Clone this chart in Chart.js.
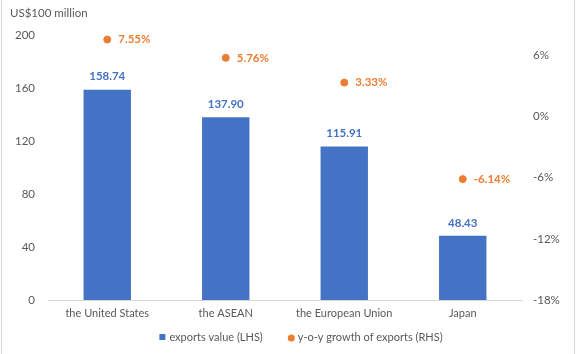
<!DOCTYPE html>
<html>
<head>
<meta charset="utf-8">
<script src="https://cdn.jsdelivr.net/npm/chart.js@4/dist/chart.umd.min.js"></script>
<style>
  html, body { margin: 0; padding: 0; background: #fff; }
  #wrap { width: 576px; height: 354px; position: relative; }
</style>
</head>
<body>
<div id="wrap"><canvas id="exportsChart"></canvas></div>
<script>
// exports by destination: value (LHS) and y-o-y growth (RHS)
const categories = ['the United States', 'the ASEAN', 'the European Union', 'Japan'];
const exportValues = [158.74, 137.90, 115.91, 48.43];
const growthRates = [7.55, 5.76, 3.33, -6.14];
const leftTicks = [0, 40, 80, 120, 160, 200];
const rightTicks = [-18, -12, -6, 0, 6];
const seriesNames = ['exports value (LHS)', 'y-o-y growth of exports (RHS)'];

const textGrey = '#595959';
const blue = '#4472C4';
const orange = '#ED7D31';
const fontFamily = 'Lato, "Open Sans", sans-serif';
const fontSize = 11.5;
const smallSize = 11;

// value labels, unit caption, legend and side frame lines
const labelPlugin = {
    id: 'labels',
    afterDatasetsDraw(chart) {
        const ctx = chart.ctx;
        ctx.save();
        ctx.font = 'bold ' + fontSize + 'px ' + fontFamily;
        ctx.textBaseline = 'middle';

        chart.getDatasetMeta(1).data.forEach((bar, i) => {
            ctx.fillStyle = blue;
            ctx.textAlign = 'center';
            ctx.fillText(exportValues[i].toFixed(2), bar.x, bar.y - 13);
        });

        chart.getDatasetMeta(0).data.forEach((pt, i) => {
            ctx.fillStyle = orange;
            ctx.textAlign = 'left';
            ctx.fillText(growthRates[i].toFixed(2) + '%', pt.x + 11, pt.y);
        });

        ctx.font = fontSize + 'px ' + fontFamily;
        ctx.fillStyle = textGrey;
        ctx.textAlign = 'left';
        ctx.fillText('US$100 million', 10, 13);

        // legend: blue square, orange dot
        ctx.font = smallSize + 'px ' + fontFamily;
        const w1 = ctx.measureText(seriesNames[0]).width;
        const w2 = ctx.measureText(seriesNames[1]).width;
        const total = 6 + 4 + w1 + 25 + 7 + 3 + w2;
        let x = 301 - total / 2;
        const y = 337;
        ctx.fillStyle = blue;
        ctx.fillRect(x, y - 3, 6, 6);
        x += 10;
        ctx.fillStyle = textGrey;
        ctx.fillText(seriesNames[0], x, y);
        x += w1 + 25;
        ctx.fillStyle = orange;
        ctx.beginPath();
        ctx.arc(x + 3.5, y + 1, 3.5, 0, Math.PI * 2);
        ctx.fill();
        x += 10;
        ctx.fillStyle = textGrey;
        ctx.fillText(seriesNames[1], x, y);

        ctx.strokeStyle = '#d9d9d9';
        ctx.lineWidth = 1;
        ctx.beginPath();
        ctx.moveTo(1.5, 0);
        ctx.lineTo(1.5, chart.height);
        ctx.moveTo(574.5, 0);
        ctx.lineTo(574.5, chart.height);
        ctx.stroke();
        ctx.restore();
    }
};

new Chart(document.getElementById('exportsChart'), {
    type: 'bar',
    data: {
        labels: categories,
        datasets: [{
            type: 'line',
            label: seriesNames[1],
            data: growthRates,
            yAxisID: 'y1',
            showLine: false,
            pointRadius: 3.5,
            pointHoverRadius: 3.5,
            pointBackgroundColor: orange,
            pointBorderColor: orange,
            order: 0
        }, {
            label: seriesNames[0],
            data: exportValues,
            yAxisID: 'y',
            backgroundColor: blue,
            borderWidth: 0,
            categoryPercentage: 1,
            barPercentage: 0.4,
            order: 1
        }]
    },
    options: {
        responsive: true,
        maintainAspectRatio: false,
        animation: false,
        layout: { padding: { top: 35, left: 0, right: 0, bottom: 28 } },
        plugins: {
            legend: { display: false },
            tooltip: { enabled: false }
        },
        scales: {
            x: {
                afterFit: (scale) => { scale.height = 26; },
                grid: { display: false, drawTicks: false },
                border: { color: '#d9d9d9' },
                ticks: { color: textGrey, font: { family: fontFamily, size: smallSize }, padding: 7 }
            },
            y: {
                position: 'left',
                min: 0,
                max: 200,
                afterBuildTicks: (scale) => { scale.ticks = leftTicks.map((v) => ({ value: v })); },
                afterFit: (scale) => { scale.width = 48; },
                grid: { display: false },
                border: { display: false },
                ticks: { color: textGrey, font: { family: fontFamily, size: fontSize }, padding: 5 }
            },
            y1: {
                position: 'right',
                min: -18,
                max: 8,
                afterBuildTicks: (scale) => { scale.ticks = rightTicks.map((v) => ({ value: v })); },
                afterFit: (scale) => { scale.width = 54; },
                grid: { display: false },
                border: { display: false },
                ticks: {
                    color: textGrey,
                    font: { family: fontFamily, size: fontSize },
                    padding: 3,
                    callback: (v) => v + '%'
                }
            }
        }
    },
    plugins: [labelPlugin]
});
</script>
</body>
</html>
